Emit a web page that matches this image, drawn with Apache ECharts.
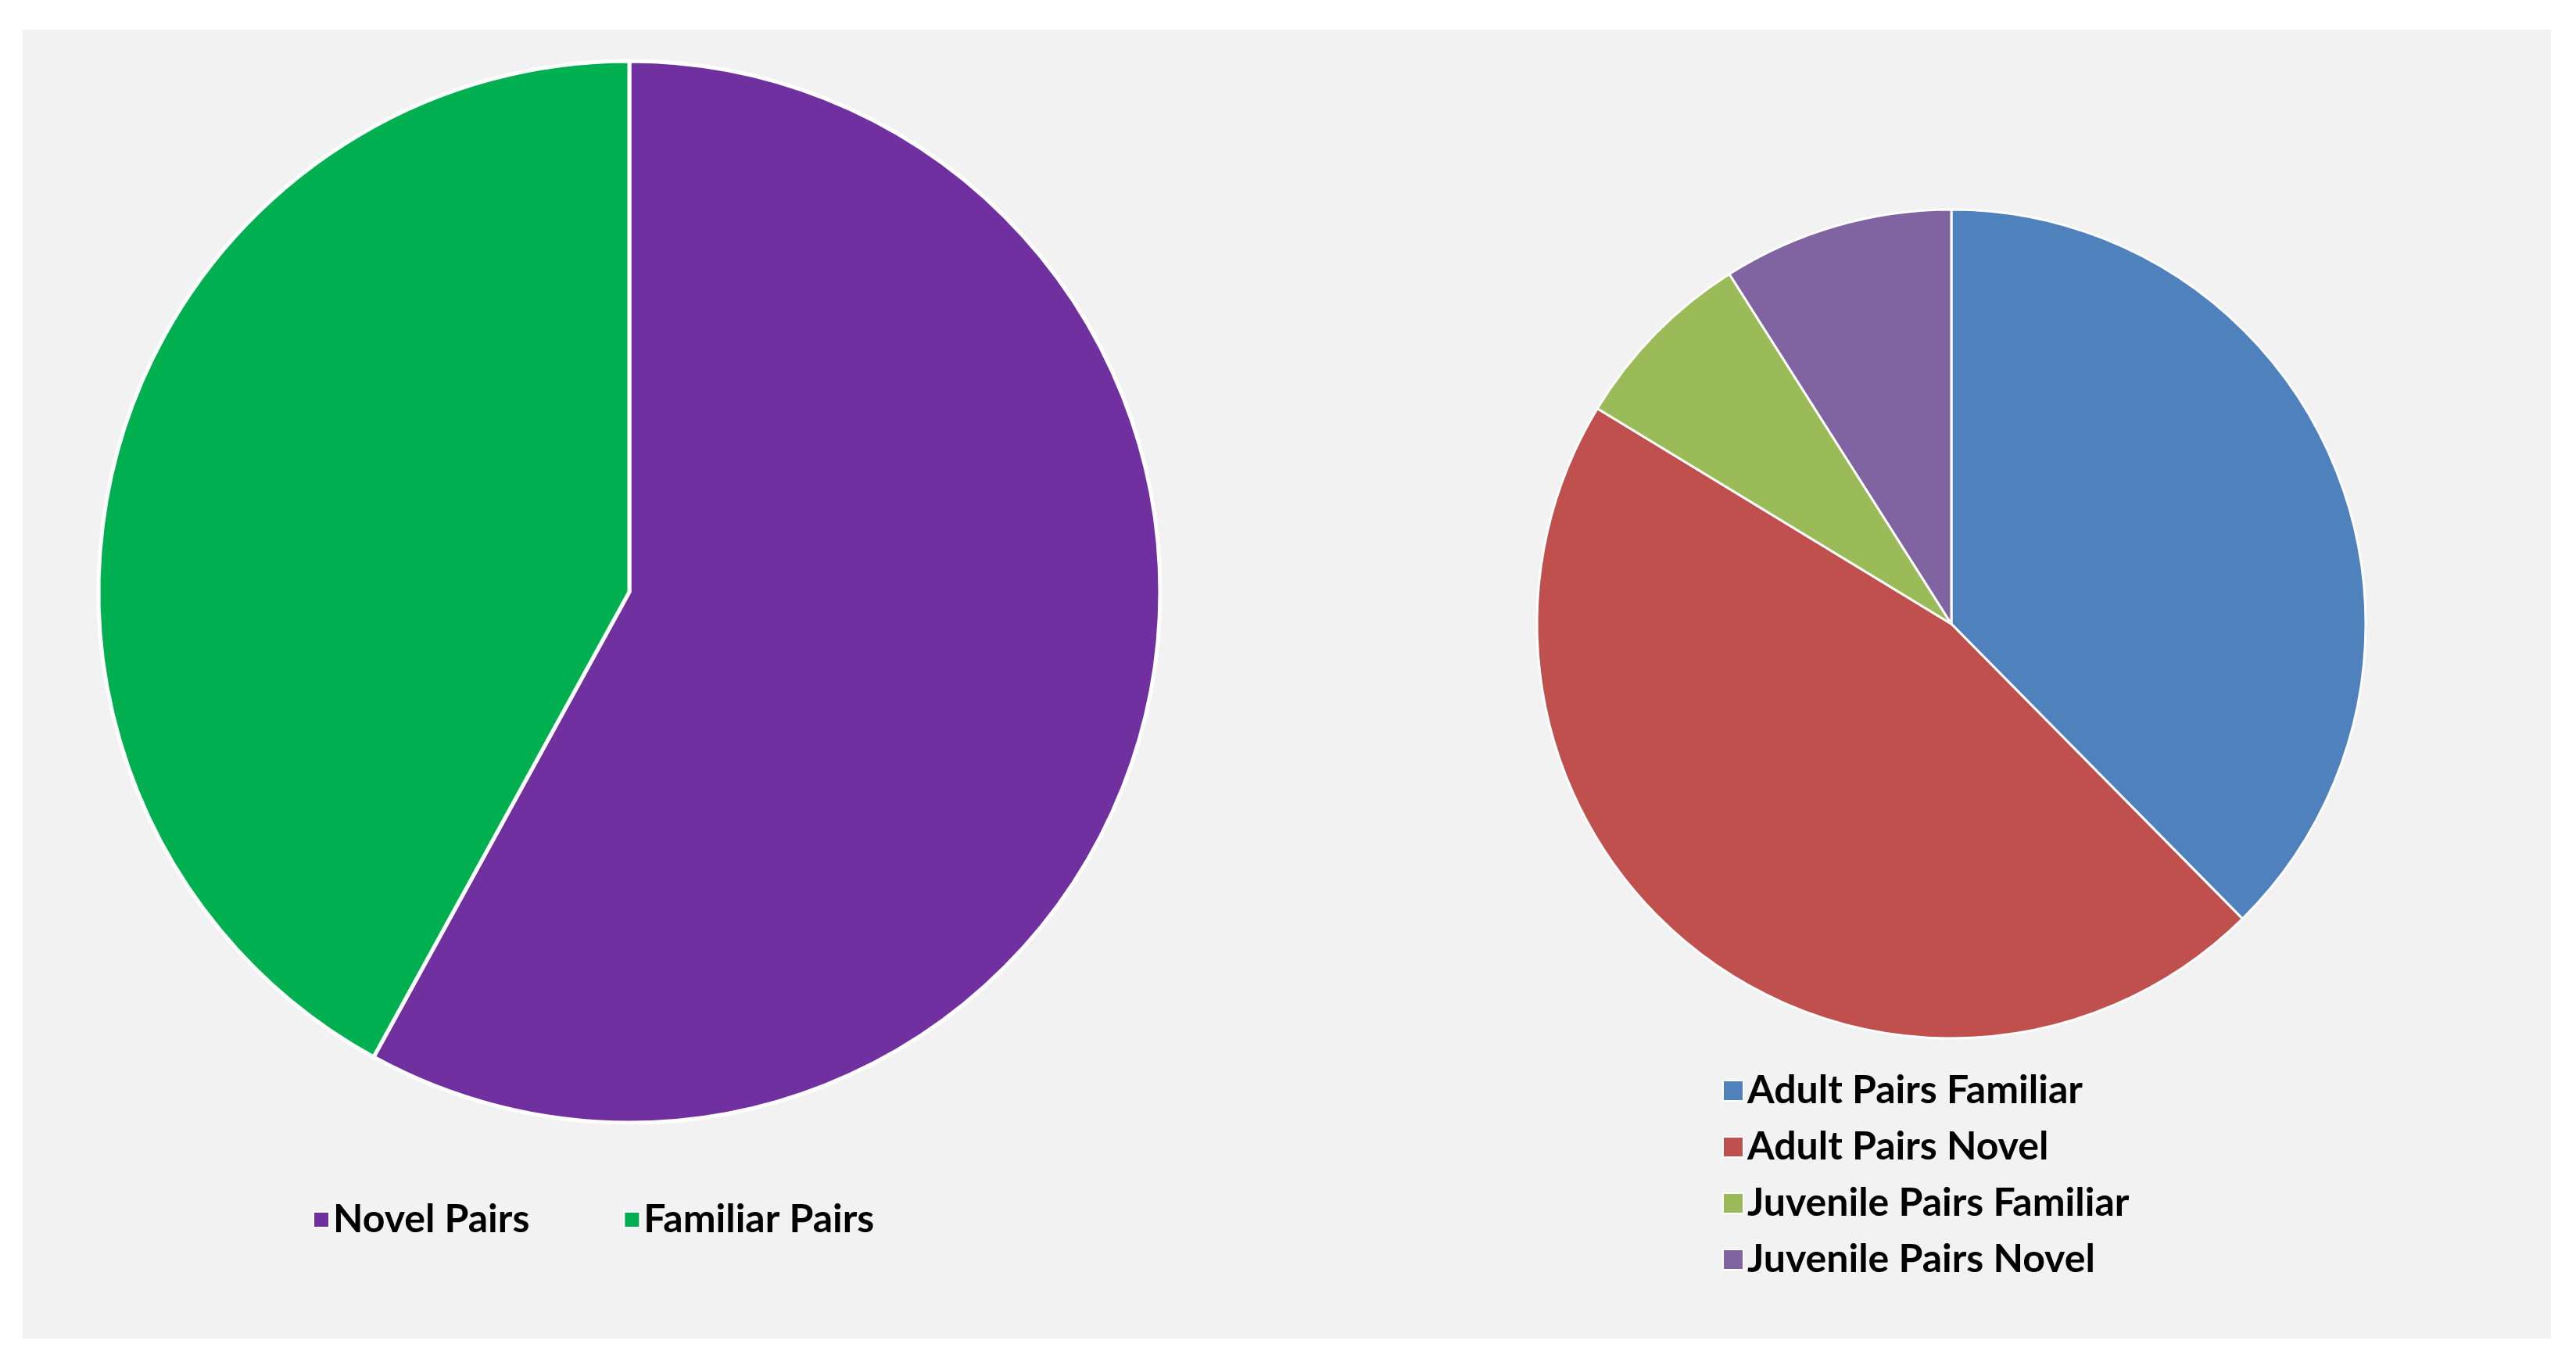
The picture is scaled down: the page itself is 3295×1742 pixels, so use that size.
<!DOCTYPE html>
<html><head><meta charset="utf-8">
<script src="https://cdn.jsdelivr.net/npm/echarts@6/dist/echarts.min.js"></script>
<style>html,body{margin:0;background:#fff}#main{width:3295px;height:1742px}</style>
</head><body><div id="main"></div>
<script>
var leftNames = ['Novel Pairs', 'Familiar Pairs'];
var leftValues = [58, 42];
var rightNames = ['Adult Pairs Familiar', 'Adult Pairs Novel', 'Juvenile Pairs Familiar', 'Juvenile Pairs Novel'];
var rightValues = [37.6, 46.1, 7.3, 9.0];

var leftColors = ['#7030a0', '#00b050'];
var rightColors = ['#4f81bd', '#c0504d', '#9bbb59', '#8064a2'];

function mk(names, vals, cols){
  var arr = [];
  for (let i = 0; i < names.length; i++) {
    arr.push({ name: names[i], value: vals[i], itemStyle: { color: cols[i] } });
  }
  return arr;
}

var myChart = echarts.init(document.getElementById('main'));
var txt = { fontFamily: 'Lato', fontWeight: 'bold', fontSize: 50, color: '#000' };
option = {
  backgroundColor: '#fff',
  graphic: [{ type: 'rect', z: -10, shape: { x: 29, y: 38, width: 3234, height: 1674 }, style: { fill: '#f2f2f2' } }],
  legend: [
    { data: leftNames, left: 395, top: 1530, itemWidth: 20, itemHeight: 20, itemGap: 120, icon: 'rect', textStyle: txt },
    { data: rightNames, orient: 'vertical', left: 2198, top: 1365, itemWidth: 26, itemHeight: 26, itemGap: 22, icon: 'rect', textStyle: txt }
  ],
  series: [
    { type: 'pie', center: [805, 757], radius: 679, startAngle: 90, clockwise: true,
      label: { show: false }, labelLine: { show: false }, silent: true,
      itemStyle: { borderColor: '#fff', borderWidth: 5 },
      data: mk(leftNames, leftValues, leftColors) },
    { type: 'pie', center: [2496, 798], radius: 530, startAngle: 90, clockwise: true,
      label: { show: false }, labelLine: { show: false }, silent: true,
      itemStyle: { borderColor: '#fff', borderWidth: 3 },
      data: mk(rightNames, rightValues, rightColors) }
  ]
};
myChart.setOption(option);
</script></body></html>
